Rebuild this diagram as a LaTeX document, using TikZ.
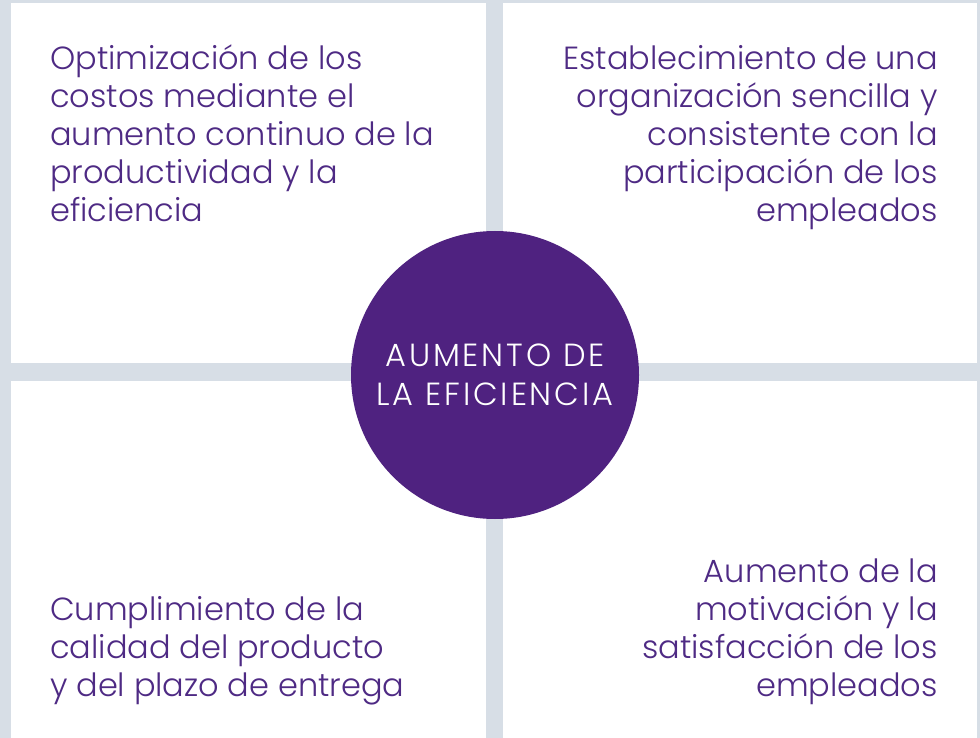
\documentclass[tikz,border=0pt]{standalone}
\usepackage{fontspec}
\setmainfont{Poppins Light}
\usepackage{tikz}
\usetikzlibrary{positioning}
\definecolor{bggrey}{HTML}{D7DEE6}
\definecolor{violet}{HTML}{4F2280}
\definecolor{violettext}{HTML}{4E2A84}
\tikzset{
    panel/.style={fill=white},
    label/.style={text=violettext,inner sep=0pt,font=\fontsize{32}{38}\selectfont},
    hub/.style={circle,fill=violet,minimum size=288pt,inner sep=0pt,
        text=white,align=center,
        font=\fontsize{32}{39}\selectfont\addfontfeatures{LetterSpace=9}}
}

\begin{document}
\begin{tikzpicture}[x=1pt,y=-1pt]
    \fill[bggrey] (0,0) rectangle (980,738);
    \useasboundingbox (0,0) rectangle (980,738);
    % panels
    \fill[panel] (11,3) rectangle (486,363);
    \fill[panel] (503,3) rectangle (977,363);
    \fill[panel] (11,381) rectangle (486,738);
    \fill[panel] (503,381) rectangle (977,738);
    % texts
    \node[label,align=left,anchor=north west] (opt) at (50,45)
        {Optimización de los\\costos mediante el\\aumento continuo de la\\productividad y la\\eficiencia};
    \node[label,align=right,anchor=north east] (est) at (938,45)
        {Establecimiento de una\\organización sencilla y\\consistente con la\\participación de los\\empleados};
    \node[label,align=left,anchor=south west] (cum) at (50,705)
        {Cumplimiento de la\\calidad del producto\\y del plazo de entrega};
    \node[label,align=right,anchor=south east] (mot) at (938,705)
        {Aumento de la\\motivación y la\\satisfacción de los\\empleados};
    \node[hub] (hub) at (495,375) {AUMENTO DE\\LA EFICIENCIA};
\end{tikzpicture}
\end{document}
